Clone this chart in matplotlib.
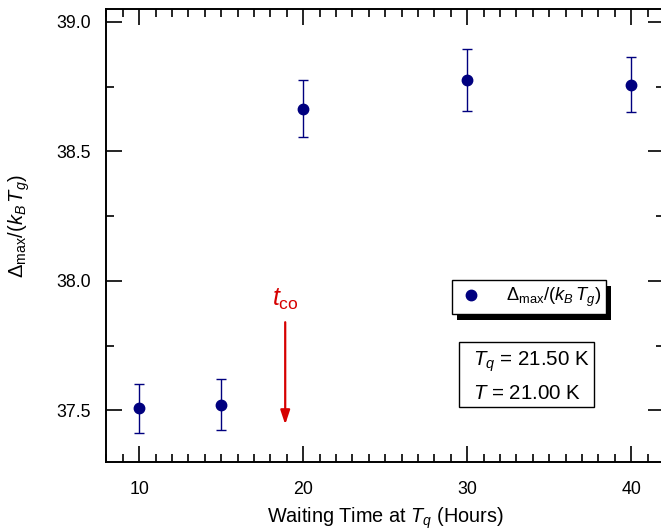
import numpy as np
import matplotlib.pyplot as plt
from matplotlib.ticker import MultipleLocator, FormatStrFormatter
from matplotlib.patches import Rectangle
from matplotlib.lines import Line2D

plt.rcParams['font.family'] = ['Liberation Sans', 'DejaVu Sans']
plt.rcParams['mathtext.fontset'] = 'custom'
plt.rcParams['mathtext.rm'] = 'Liberation Sans'
plt.rcParams['mathtext.it'] = 'Liberation Sans:italic'
plt.rcParams['mathtext.bf'] = 'Liberation Sans:bold'

# data
wait_hours = [10, 15, 20, 30, 40]
delta_ratio = [37.507, 37.522, 38.665, 38.776, 38.758]
delta_err = [0.095, 0.100, 0.111, 0.119, 0.105]

# crossover marker
t_co = 18.9
arrow_top = 37.84
arrow_tip = 37.445
t_co_label_y = 37.93

navy = '#00007f'
red = '#d60000'
series_label = r'$\Delta_{\mathrm{max}}/(k_{B}\,T_{g})$'

fig = plt.figure(figsize=(6.61, 5.32), dpi=100)
ax = fig.add_axes([0.1611, 0.1316, 0.8434, 0.8515])

ax.errorbar(wait_hours, delta_ratio, yerr=delta_err, fmt='o', color=navy,
            ms=7.5, elinewidth=1.0, capsize=3.6, capthick=1.0, zorder=3)

ax.set_xlim(8, 42)
ax.set_ylim(37.3, 39.05)
ax.xaxis.set_major_locator(MultipleLocator(10))
ax.xaxis.set_minor_locator(MultipleLocator(1))
ax.yaxis.set_major_locator(MultipleLocator(0.5))
ax.yaxis.set_minor_locator(MultipleLocator(0.25))
ax.yaxis.set_major_formatter(FormatStrFormatter('%.1f'))

ax.tick_params(which='both', direction='in', top=True, right=True,
               labelsize=12.8, width=1.2)
ax.tick_params(axis='y', which='both', pad=11)
ax.tick_params(axis='x', which='both', pad=14)
ax.tick_params(which='major', length=11.5)
ax.tick_params(which='minor', length=6)
for s in ax.spines.values():
    s.set_linewidth(1.4)

ax.set_xlabel(r'Waiting Time at $T_q$ (Hours)', fontsize=14.3, labelpad=5)
ax.set_ylabel(series_label, fontsize=14.5)
ax.yaxis.set_label_coords(-0.134, 0.52)

# crossover arrow
ax.annotate('', xy=(t_co, arrow_tip), xytext=(t_co, arrow_top),
            arrowprops=dict(arrowstyle='-|>,head_length=0.6,head_width=0.2',
                            color=red, lw=1.6, mutation_scale=14,
                            shrinkA=0, shrinkB=0))
ax.text(t_co, t_co_label_y, r'$t_{\mathrm{co}}$', color=red, fontsize=18,
        ha='center', va='center')

# legend with hard black shadow, marker-only handle
handle = Line2D([], [], marker='o', ls='none', color=navy, ms=7.5)
leg = ax.legend([handle], [series_label], loc='upper left',
                bbox_to_anchor=(0.6205, 0.4011),
                borderaxespad=0, fancybox=False, framealpha=1,
                edgecolor='black', fontsize=13.2, handletextpad=1.2,
                borderpad=0.3, handlelength=1.4)
leg.get_frame().set_linewidth(1.0)
leg.set_zorder(5)
fig.canvas.draw()
bb = leg.get_window_extent()
inv = ax.transAxes.inverted()
(x0, y0), (x1, y1) = inv.transform([[bb.x0 + 5, bb.y0 - 6], [bb.x1 + 5, bb.y1 - 6]])
ax.add_patch(Rectangle((x0, y0), x1 - x0, y1 - y0, transform=ax.transAxes,
                       facecolor='black', edgecolor='none', zorder=4.5,
                       clip_on=False))

# parameter box
ax.add_patch(Rectangle((0.6317, 0.1214), 0.2435, 0.1435, transform=ax.transAxes,
                       facecolor='white', edgecolor='black', lw=1.0, zorder=5))
ax.text(0.657, 0.222, r'$T_q$ = 21.50 K', transform=ax.transAxes,
        fontsize=14.8, va='center', ha='left', zorder=6)
ax.text(0.657, 0.151, r'$T$ = 21.00 K', transform=ax.transAxes,
        fontsize=14.8, va='center', ha='left', zorder=6)

fig.savefig('out.png', dpi=100)
